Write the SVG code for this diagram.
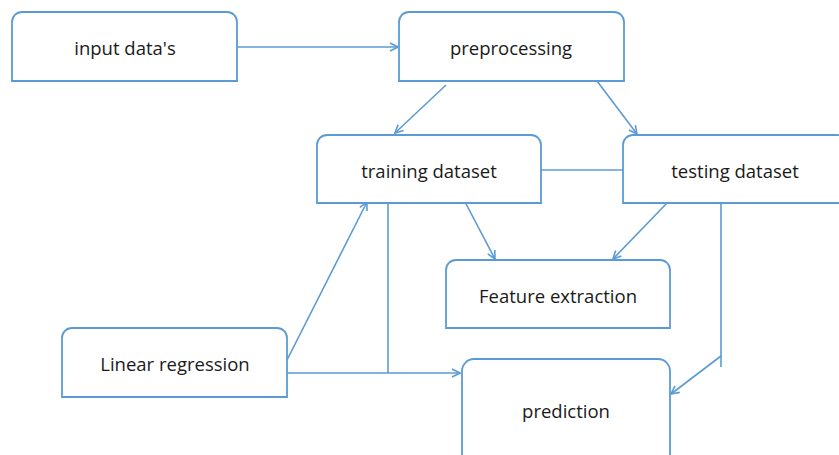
<svg xmlns="http://www.w3.org/2000/svg" width="839" height="455" viewBox="0 0 839 455">
<style>
.box{fill:#fff;stroke:#5b9bd5;stroke-width:1.8}
.ln{fill:none;stroke:#5b9bd5;stroke-width:1.6}
.arr{marker-end:url(#ah)}
text{font-family:"Open Sans","Liberation Sans",sans-serif;font-size:18.5px;fill:#1a1a1a;text-anchor:middle;dominant-baseline:central}
</style>
<defs>
<marker id="ah" viewBox="0 0 10 10" refX="9" refY="5" markerWidth="10" markerHeight="10" markerUnits="userSpaceOnUse" orient="auto">
<path d="M1,1 L9,5 L1,9" fill="none" stroke="#5b9bd5" stroke-width="1.6"/>
</marker>
</defs>
<rect width="839" height="455" fill="#fff"/>
<g id="connectors">
<line class="ln arr" x1="237" y1="47" x2="398" y2="47"/>
<line class="ln arr" x1="446" y1="85" x2="395" y2="133"/>
<line class="ln arr" x1="597" y1="81" x2="637" y2="134"/>
<line class="ln" x1="541" y1="170" x2="623" y2="170"/>
<line class="ln arr" x1="464" y1="200" x2="495" y2="259"/>
<line class="ln arr" x1="668" y1="202" x2="613" y2="259"/>
<line class="ln" x1="721" y1="203" x2="721" y2="367"/>
<line class="ln arr" x1="721" y1="356" x2="671" y2="394"/>
<line class="ln" x1="388" y1="203" x2="388" y2="373"/>
<line class="ln arr" x1="287" y1="360" x2="367" y2="202"/>
<line class="ln arr" x1="287" y1="373" x2="460" y2="373"/>
</g>
<g id="input">
<path class="box" d="M12,81 V22 A10,10 0 0 1 22,12 H227 A10,10 0 0 1 237,22 V81 Z"/>
<text x="125" y="47">input data's</text>
</g>
<g id="preprocessing">
<path class="box" d="M399,81 V22 A10,10 0 0 1 409,12 H614 A10,10 0 0 1 624,22 V81 Z"/>
<text x="511" y="47">preprocessing</text>
</g>
<g id="training">
<path class="box" d="M317,203 V145 A10,10 0 0 1 327,135 H531 A10,10 0 0 1 541,145 V203 Z"/>
<text x="429" y="170">training dataset</text>
</g>
<g id="testing">
<path class="box" d="M623,203 V145 A10,10 0 0 1 633,135 H837 A10,10 0 0 1 847,145 V203 Z"/>
<text x="735" y="170">testing dataset</text>
</g>
<g id="feature">
<path class="box" d="M446,328 V270 A10,10 0 0 1 456,260 H660 A10,10 0 0 1 670,270 V328 Z"/>
<text x="558" y="295">Feature extraction</text>
</g>
<g id="linear">
<path class="box" d="M62,397 V338 A10,10 0 0 1 72,328 H277 A10,10 0 0 1 287,338 V397 Z"/>
<text x="175" y="363">Linear regression</text>
</g>
<g id="prediction">
<path class="box" d="M462,462 V371 A12,12 0 0 1 474,359 H658 A12,12 0 0 1 670,371 V462 Z"/>
<text x="566" y="410">prediction</text>
</g>
</svg>
